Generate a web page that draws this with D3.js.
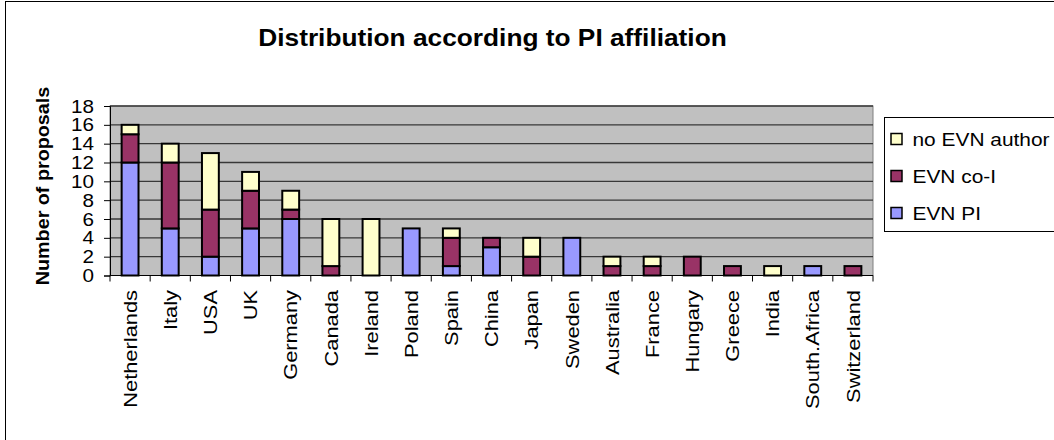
<!DOCTYPE html>
<html>
<head>
<meta charset="utf-8">
<script src="https://cdn.jsdelivr.net/npm/d3@7"></script>
<style>
  html, body { margin: 0; padding: 0; background: #fff; }
  svg { display: block; font-family: Arial, "Liberation Sans", sans-serif; }
</style>
</head>
<body>
<svg id="chart" width="1054" height="440"></svg>
<script>
// Proposal counts by PI affiliation
const countries = ["Netherlands", "Italy", "USA", "UK", "Germany", "Canada", "Ireland", "Poland",
  "Spain", "China", "Japan", "Sweden", "Australia", "France", "Hungary", "Greece", "India",
  "South.Africa", "Switzerland"];
const evnPI     = [12, 5, 2, 5, 6, 0, 0, 5, 1, 3, 0, 4, 0, 0, 0, 0, 0, 1, 0];
const evnCoI    = [3, 7, 5, 4, 1, 1, 0, 0, 3, 1, 2, 0, 1, 1, 2, 1, 0, 0, 1];
const noEvn     = [1, 2, 6, 2, 2, 5, 6, 0, 1, 0, 2, 0, 1, 1, 0, 0, 1, 0, 0];
const seriesNames = ["EVN PI", "EVN co-I", "no EVN author"];
const yTicks = [0, 2, 4, 6, 8, 10, 12, 14, 16, 18];

const colors = { "EVN PI": "#9999ff", "EVN co-I": "#993366", "no EVN author": "#ffffcc" };

const svg = d3.select("#chart");
const STRETCH = 1.13; // wide-set label text

// outer chart frame
svg.append("rect").attr("x", 5.5).attr("y", 1.5).attr("width", 1100).attr("height", 500)
  .attr("fill", "none").attr("stroke", "#000").attr("stroke-width", 1);

const plot = { left: 110, right: 873, top: 106, bottom: 275.5 };

const x = d3.scaleBand().domain(countries).range([plot.left, plot.right]).paddingInner(0).paddingOuter(0);
const y = d3.scaleLinear().domain([0, 18]).range([plot.bottom, plot.top]);

// plot background
svg.append("rect").attr("x", plot.left).attr("y", plot.top)
  .attr("width", plot.right - plot.left).attr("height", plot.bottom - plot.top)
  .attr("fill", "#c0c0c0").attr("stroke", "#808080").attr("stroke-width", 1);

// horizontal gridlines
svg.append("g").selectAll("line").data(yTicks.filter(d => d > 0)).join("line")
  .attr("x1", plot.left).attr("x2", plot.right)
  .attr("y1", d => y(d)).attr("y2", d => y(d))
  .attr("stroke", "#383838").attr("stroke-width", 1.3);

// stacked bars
const table = countries.map((c, i) => ({
  country: c, "EVN PI": evnPI[i], "EVN co-I": evnCoI[i], "no EVN author": noEvn[i]
}));
const stacked = d3.stack().keys(seriesNames)(table);
const barW = x.bandwidth() * 0.42;

svg.append("g").selectAll("g").data(stacked).join("g")
  .attr("fill", d => colors[d.key])
  .selectAll("rect").data(d => d.filter(p => p[1] - p[0] > 0)).join("rect")
  .attr("x", d => x(d.data.country) + (x.bandwidth() - barW) / 2)
  .attr("width", barW)
  .attr("y", d => y(d[1]))
  .attr("height", d => y(d[0]) - y(d[1]))
  .attr("stroke", "#000").attr("stroke-width", 2);

// y axis
const yAxis = d3.axisLeft(y).tickValues(yTicks).tickSize(6).tickFormat(() => "");
const gy = svg.append("g").attr("transform", `translate(${plot.left},0)`).call(yAxis);
gy.select(".domain").attr("stroke", "#000").attr("stroke-width", 1);
gy.selectAll(".tick line").attr("stroke", "#000");
svg.append("g").selectAll("text").data(yTicks).join("text")
  .attr("transform", d => `translate(94,${y(d)}) scale(${STRETCH},1)`)
  .attr("text-anchor", "end").attr("dy", "0.36em")
  .attr("font-size", 18.3).attr("fill", "#000")
  .text(d => d3.format("d")(d));

// x axis: ticks at category boundaries
const gx = svg.append("g").attr("transform", `translate(0,${plot.bottom})`);
gx.append("line").attr("x1", plot.left).attr("x2", plot.right).attr("stroke", "#000");
gx.selectAll("line.tk").data(d3.range(countries.length + 1)).join("line").attr("class", "tk")
  .attr("x1", i => plot.left + i * x.step()).attr("x2", i => plot.left + i * x.step())
  .attr("y1", 0).attr("y2", 6).attr("stroke", "#000");
gx.selectAll("text").data(countries).join("text")
  .attr("transform", d => `translate(${x(d) + x.bandwidth() / 2 + 6.7},14.5) rotate(-90) scale(1.15,1)`)
  .attr("text-anchor", "end")
  .attr("font-size", 19).attr("fill", "#000")
  .text(d => d);

// title
svg.append("text").attr("transform", "translate(492.5,45.7) scale(1.095,1)").attr("text-anchor", "middle")
  .attr("font-size", 24).attr("font-weight", "bold").text("Distribution according to PI affiliation");

// y axis title
svg.append("text").attr("transform", "translate(48.5,186) rotate(-90) scale(1.08,1)")
  .attr("text-anchor", "middle").attr("font-size", 18.3).attr("font-weight", "bold")
  .text("Number of proposals");

// legend
const lg = svg.append("g");
lg.append("rect").attr("x", 884.5).attr("y", 117.5).attr("width", 200).attr("height", 114)
  .attr("fill", "#fff").attr("stroke", "#000").attr("stroke-width", 1);
const legendOrder = ["no EVN author", "EVN co-I", "EVN PI"];
const li = lg.selectAll("g").data(legendOrder).join("g")
  .attr("transform", (d, i) => `translate(891,${139 + i * 37})`);
li.append("rect").attr("x", 0).attr("y", -5.5).attr("width", 11).attr("height", 11)
  .attr("fill", d => colors[d]).attr("stroke", "#000").attr("stroke-width", 1.5);
li.append("text").attr("transform", `translate(21.5,0) scale(${STRETCH},1)`).attr("dy", "0.36em")
  .attr("font-size", 18.5).text(d => d);
</script>
</body>
</html>
